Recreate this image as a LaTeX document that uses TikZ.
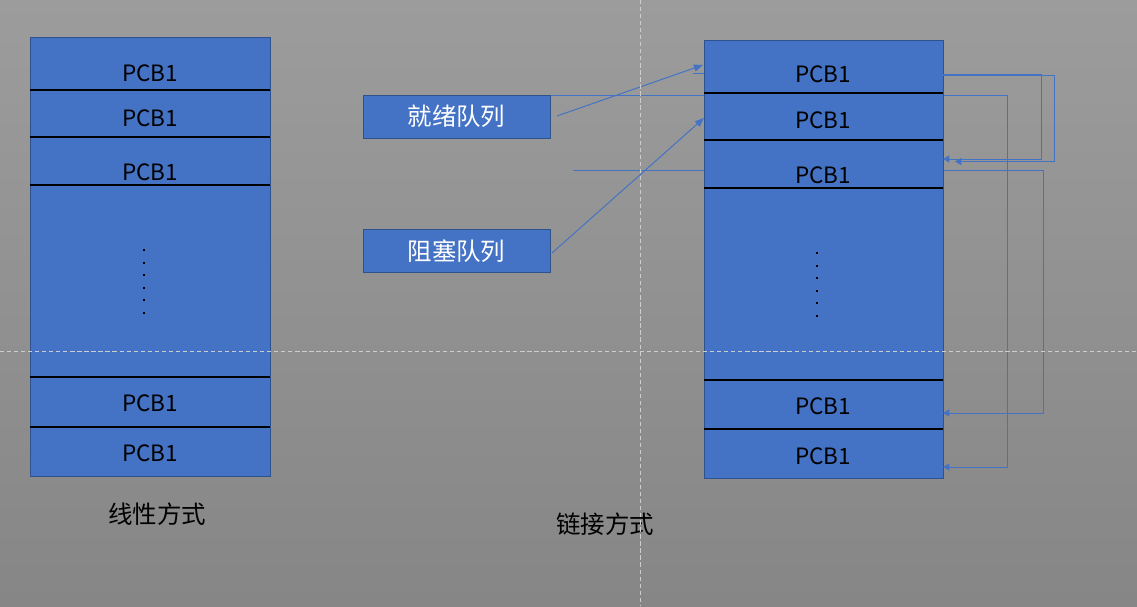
\documentclass[tikz,border=0pt]{standalone}
\usepackage{fontspec}
\setmainfont{Noto Sans CJK SC}
\usetikzlibrary{positioning, arrows.meta}
\definecolor{pcbblue}{HTML}{4472C4}
\definecolor{pcbedge}{HTML}{2F528F}
\definecolor{bgtop}{RGB}{156,156,156}
\definecolor{bgbottom}{RGB}{134,134,134}
\definecolor{guidegray}{RGB}{205,205,205}

\begin{document}
\begin{tikzpicture}[x=0.025cm, y=-0.025cm,
  column/.style={draw=pcbedge, fill=pcbblue, line width=0.6pt, inner sep=0pt, anchor=north west},
  rowline/.style={line width=1.3pt, black},
  pcb/.style={font=\fontsize{16}{18}\selectfont, text=black},
  queue/.style={draw=pcbedge, fill=pcbblue, line width=0.6pt, minimum width=4.675cm, minimum height=1.075cm, text=white, font=\fontsize{17.4}{20}\selectfont},
  linkline/.style={draw=pcbblue, line width=0.7pt},
  looparrow/.style={-{Triangle[length=4.5pt,width=5pt]}},
  linkarrow/.style={-{Triangle[length=6.5pt,width=5pt]}},
  modelabel/.style={font=\fontsize{17.4}{20}\selectfont, text=black},
  guide/.style={guidegray, line width=0.5pt, dash pattern=on 3pt off 2pt}]
\useasboundingbox (0,0) rectangle (1137,606);
\fill[top color=bgtop, bottom color=bgbottom] (0,0) rectangle (1137,606);

\node[column, minimum width=6cm, minimum height=10.975cm] (linear) at (30,37) {};
\foreach \y in {90,137,185,377,427}
  \draw[rowline] (30,\y) -- (270,\y);
\foreach \y/\n in {73/1,118/2,172/3,403/4,453/5}
  \node[pcb] (lpcb\n) at (150,\y) {PCB1};
\foreach \y in {249,261.5,...,312}
  \fill (143,\y) rectangle +(2,2);
\node[modelabel] (linlabel) at (157,514) {线性方式};

\coordinate (readyin) at (433,95);
\coordinate (blockin) at (573,170);
\draw[linkline] (readyin) -- (1007,95) |- (943,467);
\draw[linkline] (blockin) -- (1043,170) |- (943,413);
\draw[linkline] (693,73) -- (704,73);

\node[queue] (ready) at (456.5,116.5) {就绪队列};
\node[queue] (blocked) at (456.5,251) {阻塞队列};

\node[column, minimum width=5.975cm, minimum height=10.95cm] (linked) at (704,40) {};
\foreach \y in {93,140,188,380,429}
  \draw[rowline] (704,\y) -- (943,\y);
\foreach \y/\n in {74/1,120/2,175/3,406/4,456/5}
  \node[pcb] (rpcb\n) at (823,\y) {PCB1};
\foreach \y in {252,264.5,...,315}
  \fill (816,\y) rectangle +(2,2);
\node[modelabel] (linklabel) at (605,524) {链接方式};

\coordinate (readyout) at (557,116);
\coordinate (blockout) at (552,253);
\coordinate (head1) at (703,65);
\coordinate (head2) at (704,118);
\draw[linkline, linkarrow] (readyout) -- (head1);
\draw[linkline, linkarrow] (blockout) -- (head2);

\draw[linkline, looparrow] (943,74) -| (1041,159) -- (943,159);
\draw[linkline, looparrow] (943,75.5) -| (1054,161.5) -- (955,161.5);
\draw[linkline, looparrow] (1007,460) |- (943,467);
\draw[linkline, looparrow] (1043,405) |- (943,413);

\draw[guide] (640,0) -- (640,606);
\draw[guide] (0,351) -- (1137,351);
\end{tikzpicture}
\end{document}
